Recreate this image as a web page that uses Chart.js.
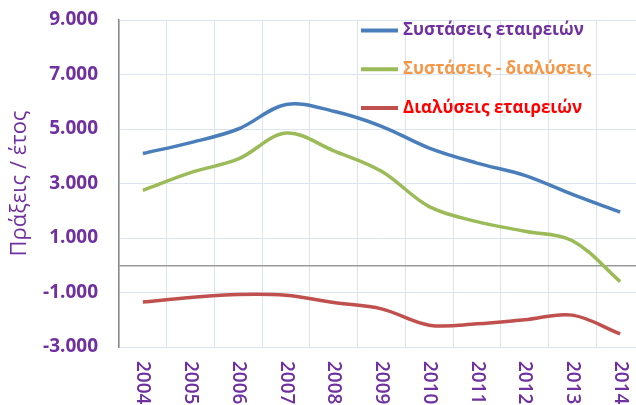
<!DOCTYPE html>
<html><head><meta charset="utf-8">
<script src="https://cdn.jsdelivr.net/npm/chart.js@4/dist/chart.umd.min.js"></script>
<style>
html,body{margin:0;padding:0;overflow:hidden;background:#fff;width:636px;height:405px}
#wrap{position:relative;width:644px;height:405px}
</style></head>
<body><div id="wrap"><canvas id="c" width="644" height="405"></canvas></div>
<script>
const years = ['2004','2005','2006','2007','2008','2009','2010','2011','2012','2013','2014'];
const founded = [4100, 4500, 5000, 5900, 5650, 5100, 4300, 3750, 3300, 2600, 1950];
const balance = [2750, 3400, 3900, 4850, 4200, 3450, 2150, 1600, 1250, 900, -600];
const dissolved = [-1350, -1180, -1070, -1100, -1370, -1600, -2200, -2150, -2000, -1830, -2520];
const seriesNames = ['Συστάσεις εταιρειών', 'Συστάσεις - διαλύσεις', 'Διαλύσεις εταιρειών'];
const yAxisTitle = 'Πράξεις / έτος';
const yMin = -3000, yMax = 9000, yStep = 2000;

const PURPLE = '#7030A0';
const lineColors = ['#4A7EBB', '#9BBB59', '#C0504D'];
const legendTextColors = ['#7030A0', '#F79646', '#FF0000'];
const GRID = '#DCE4F0';

function fmt(v){
  const s = String(Math.abs(v)).replace(/\B(?=(\d{3})+(?!\d))/g, '.');
  return (v < 0 ? '-' : '') + s;
}

const xLabelsPlugin = {
  id: 'xLabels',
  afterDraw(chart){
    const ctx = chart.ctx, xs = chart.scales.x, area = chart.chartArea;
    ctx.save();
    ctx.fillStyle = PURPLE;
    ctx.font = '600 19px "Open Sans"';
    ctx.textAlign = 'left';
    ctx.textBaseline = 'middle';
    chart.data.labels.forEach((lab, i) => {
      const x = xs.getPixelForTick(i);
      ctx.save();
      ctx.translate(x, area.bottom + 14);
      ctx.rotate(Math.PI / 2);
      ctx.fillText(lab, 0, 0);
      ctx.restore();
    });
    ctx.restore();
  }
};

const legendPlugin = {
  id: 'inlineLegend',
  afterDatasetsDraw(chart){
    const ctx = chart.ctx;
    ctx.save();
    chart.data.datasets.forEach((ds, i) => {
      const y = 30.5 + i * 38.8;
      ctx.strokeStyle = ds.borderColor;
      ctx.lineWidth = 4;
      ctx.beginPath();
      ctx.moveTo(361, y);
      ctx.lineTo(398, y);
      ctx.stroke();
      ctx.fillStyle = legendTextColors[i];
      ctx.font = 'bold 17px "Open Sans"';
      ctx.textAlign = 'left';
      ctx.textBaseline = 'middle';
      ctx.fillText(ds.label, 403, y);
    });
    ctx.restore();
  }
};

const series = [founded, balance, dissolved];
new Chart(document.getElementById('c'), {
  type: 'line',
  data: {
    labels: years,
    datasets: series.map((d, i) => ({
      label: seriesNames[i],
      data: d,
      borderColor: lineColors[i],
      backgroundColor: lineColors[i],
      borderWidth: 3.5,
      pointRadius: 0,
      tension: 0.35,
      fill: false
    }))
  },
  options: {
    responsive: false,
    animation: false,
    layout: { padding: { left: 0, right: 0, top: 20, bottom: 0 } },
    plugins: { legend: { display: false }, tooltip: { enabled: false } },
    scales: {
      x: {
        offset: true,
        grid: { offset: true, color: GRID, lineWidth: 1, drawTicks: false },
        border: { display: false },
        ticks: { display: false },
        afterFit(s){ s.height = 58; }
      },
      y: {
        min: yMin, max: yMax,
        ticks: {
          stepSize: yStep,
          padding: 0,
          color: PURPLE,
          font: { family: 'Open Sans', size: 19, weight: 'bold' },
          callback: (v) => v === 0 ? '' : fmt(v)
        },
        afterBuildTicks(s){
          const t = s.ticks.slice();
          if (!t.some(k => k.value === 0)) t.push({ value: 0 });
          t.sort((a, b) => a.value - b.value);
          s.ticks = t;
        },
        grid: {
          drawTicks: true,
          tickLength: 21,
          tickColor: 'rgba(0,0,0,0)',
          color: (c) => (c.tick && c.tick.value === 0) ? '#9A9A9A' : GRID,
          lineWidth: (c) => (c.tick && c.tick.value === 0) ? 1.5 : 1
        },
        border: { color: '#8A8A8A', width: 1.5 },
        title: {
          display: true,
          text: yAxisTitle,
          color: PURPLE,
          font: { family: 'Open Sans', size: 22, weight: 'normal' },
          padding: { top: 7, bottom: 0 }
        },
        afterFit(s){ s.width = 119; }
      }
    }
  },
  plugins: [xLabelsPlugin, legendPlugin]
});
</script>
</body></html>
